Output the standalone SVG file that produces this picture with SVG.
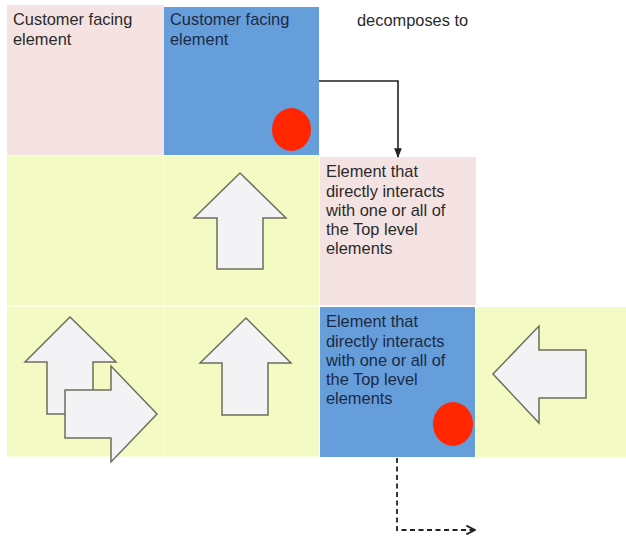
<svg xmlns="http://www.w3.org/2000/svg" width="626" height="538" viewBox="0 0 626 538">
  <defs>
    <style>
      .pink { fill: #f5e3e3; }
      .blue { fill: #669edc; }
      .yellow { fill: #f4fac4; }
      .lbl { font-family: "Liberation Sans", Arial, sans-serif; font-size: 16.4px; fill: #2a2a2a; }
      .lbl-dark { font-family: "Liberation Sans", Arial, sans-serif; font-size: 16.4px; fill: #1b2a44; }
      .dot { fill: #ff2600; }
      .shape { fill: #f3f3f5; stroke: #6e6e5c; stroke-width: 1.5; stroke-linejoin: miter; }
      .link { fill: none; stroke: #222; stroke-width: 1.6; }
      .dash { fill: none; stroke: #222; stroke-width: 1.8; stroke-dasharray: 5 3.5; }
    </style>
    <marker id="solidHead" viewBox="0 0 10 10" refX="9" refY="5" markerWidth="6" markerHeight="6" orient="auto">
      <path d="M0,1 L10,5 L0,9 Z" fill="#222"/>
    </marker>
    <marker id="openHead" viewBox="0 0 10 10" refX="9" refY="5" markerWidth="6" markerHeight="6" orient="auto">
      <path d="M1,1 L9,5 L1,9" fill="none" stroke="#222" stroke-width="1.8"/>
    </marker>
  </defs>

  <rect width="626" height="538" fill="#ffffff"/>

  <!-- top row -->
  <g id="cell-top-left">
    <rect class="pink" x="7" y="5" width="157" height="150"/>
    <text class="lbl" x="13" y="25">Customer facing</text>
    <text class="lbl" x="13" y="45">element</text>
  </g>
  <g id="cell-top-blue">
    <rect class="blue" x="164" y="7" width="155" height="148"/>
    <text class="lbl-dark" x="170" y="25">Customer facing</text>
    <text class="lbl-dark" x="170" y="45">element</text>
    <ellipse class="dot" cx="291.5" cy="129.5" rx="19.5" ry="21.5"/>
  </g>
  <g id="label-decomposes">
    <text class="lbl" x="357" y="26">decomposes to</text>
  </g>

  <!-- middle row -->
  <g id="cell-mid-left">
    <rect class="yellow" x="7" y="155.5" width="156" height="150"/>
  </g>
  <g id="cell-mid-arrow">
    <rect class="yellow" x="164" y="155.5" width="155" height="150"/>
    <polygon class="shape" points="240,173 286,218 263,218 263,269 217,269 217,218 194,218"/>
  </g>
  <g id="cell-mid-element">
    <rect class="pink" x="320" y="157" width="156" height="148"/>
    <text class="lbl" x="326" y="177">Element that</text>
    <text class="lbl" x="326" y="197">directly interacts</text>
    <text class="lbl" x="326" y="216">with one or all of</text>
    <text class="lbl" x="326" y="235">the Top level</text>
    <text class="lbl" x="326" y="254">elements</text>
  </g>

  <!-- bottom row -->
  <g id="cell-bottom-left">
    <rect class="yellow" x="7" y="306.5" width="156" height="150"/>
    <polygon class="shape" points="70,317 116,362 93,362 93,414 47,414 47,362 25,362"/>
    <polygon class="shape" points="65,390 111,390 111,366 157,414 111,462 111,438 65,438"/>
  </g>
  <g id="cell-bottom-arrow">
    <rect class="yellow" x="164" y="306.5" width="155" height="150"/>
    <polygon class="shape" points="246,318 291,363 268,363 268,415 222,415 222,363 200,363"/>
  </g>
  <g id="cell-bottom-element">
    <rect class="blue" x="320" y="307" width="155" height="150"/>
    <text class="lbl-dark" x="326" y="327">Element that</text>
    <text class="lbl-dark" x="326" y="347">directly interacts</text>
    <text class="lbl-dark" x="326" y="366">with one or all of</text>
    <text class="lbl-dark" x="326" y="385">the Top level</text>
    <text class="lbl-dark" x="326" y="404">elements</text>
    <ellipse class="dot" cx="453" cy="424" rx="20" ry="22"/>
  </g>
  <g id="cell-bottom-right">
    <rect class="yellow" x="476" y="307" width="150" height="150"/>
    <polygon class="shape" points="493,374 539,326 539,350 586,350 586,398 539,398 539,423"/>
  </g>

  <!-- connectors -->
  <g id="connectors">
    <path class="link" d="M319,81 H398 V157" marker-end="url(#solidHead)"/>
    <path class="dash" d="M397,458 V530 H475" marker-end="url(#openHead)"/>
  </g>
</svg>
